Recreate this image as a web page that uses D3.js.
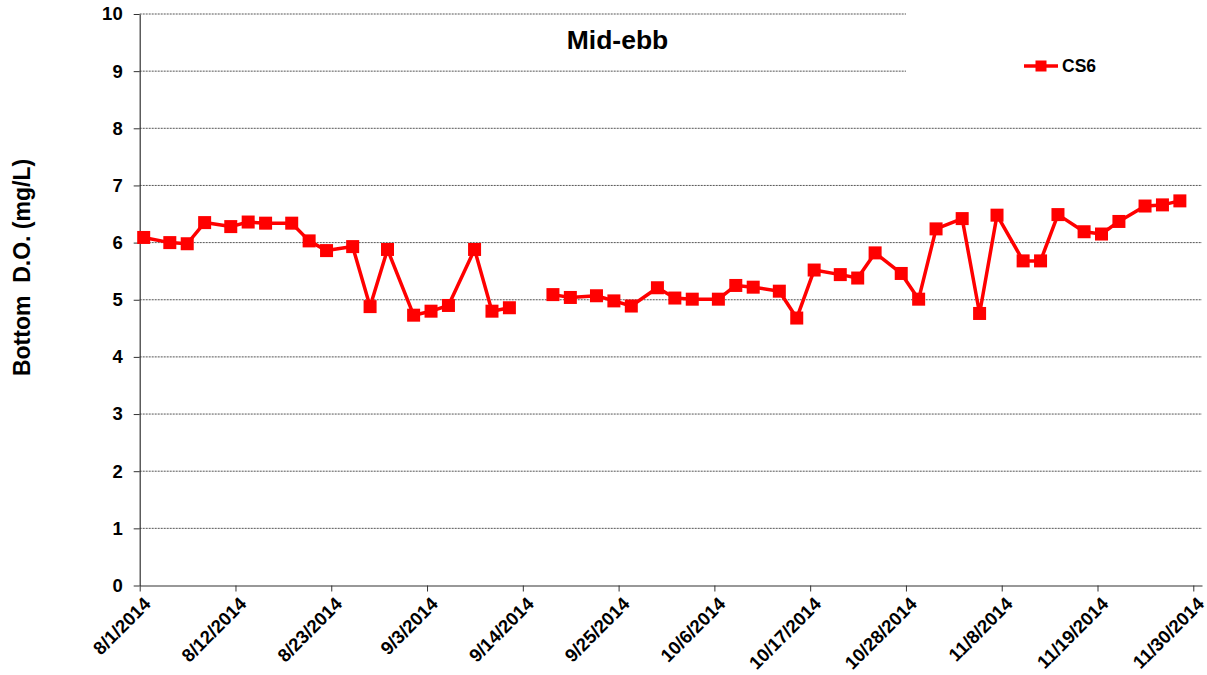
<!DOCTYPE html>
<html><head><meta charset="utf-8">
<script src="https://cdn.jsdelivr.net/npm/d3@7"></script>
<style>
body{margin:0;background:#fff;}
svg{display:block;font-family:"Liberation Sans",Arial,sans-serif;}
</style></head>
<body><svg id="c" width="1207" height="675"></svg>
<script>
const seriesName = "CS6";
const dates = ["2014-08-01","2014-08-04","2014-08-06","2014-08-08","2014-08-11","2014-08-13","2014-08-15","2014-08-18","2014-08-20","2014-08-22","2014-08-25","2014-08-27","2014-08-29",
"2014-09-01","2014-09-03","2014-09-05","2014-09-08","2014-09-10","2014-09-12","2014-09-15","2014-09-17","2014-09-19","2014-09-22","2014-09-24","2014-09-26","2014-09-29",
"2014-10-01","2014-10-03","2014-10-06","2014-10-08","2014-10-10","2014-10-13","2014-10-15","2014-10-17","2014-10-20","2014-10-22","2014-10-24","2014-10-27","2014-10-29","2014-10-31",
"2014-11-03","2014-11-05","2014-11-07","2014-11-10","2014-11-12","2014-11-14","2014-11-17","2014-11-19","2014-11-21","2014-11-24","2014-11-26","2014-11-28"];
const sampleTime = "T11:00";
const values = [6.09,6.00,5.98,6.35,6.28,6.36,6.34,6.34,6.03,5.86,5.93,4.88,5.88,
4.73,4.80,4.90,5.88,4.80,4.86,null,5.09,5.04,5.07,4.98,4.89,5.21,
5.03,5.01,5.01,5.25,5.22,5.15,4.68,5.52,5.44,5.38,5.82,5.46,5.01,6.24,
6.42,4.76,6.48,5.68,5.68,6.49,6.19,6.15,6.37,6.64,6.66,6.73];
const xTickLabels = ["8/1/2014","8/12/2014","8/23/2014","9/3/2014","9/14/2014","9/25/2014","10/6/2014","10/17/2014","10/28/2014","11/8/2014","11/19/2014","11/30/2014"];
const yTicks = [0,1,2,3,4,5,6,7,8,9,10];
const xDomain = ["2014-08-01","2014-12-01"];
const yDomain = [0,10];
const title = "Mid-ebb";
const yTitle = "Bottom  D.O. (mg/L)";

const parse = d3.timeParse("%Y-%m-%dT%H:%M");
const parseDay = d3.timeParse("%Y-%m-%d");
const tickParse = d3.timeParse("%-m/%-d/%Y");
const data = dates.map((d,i)=>({date:parse(d+sampleTime), v:values[i]}));

const L=139.7, R=1202, T=14, B=585.5;
const x = d3.scaleTime().domain(xDomain.map(parseDay)).range([L,R]);
const y = d3.scaleLinear().domain(yDomain).range([B,T]);
const svg = d3.select("#c");
const FF = "'Liberation Sans',Arial,sans-serif";

// gridlines
svg.append("g").selectAll("line").data(yTicks.filter(t=>t>0)).join("line")
  .attr("x1",L).attr("x2",R).attr("y1",d=>y(d)).attr("y2",d=>y(d))
  .attr("stroke","#555").attr("stroke-width",1).attr("stroke-dasharray","2,1");

// legend background box (covers gridlines)
svg.append("rect").attr("x",906).attr("y",5).attr("width",300).attr("height",100).attr("fill","#fff");

// y axis
const yAxis = svg.append("g").attr("transform",`translate(${L},0)`)
  .call(d3.axisLeft(y).tickValues(yTicks).tickSize(6).tickSizeOuter(0).tickFormat(d3.format("d")));
yAxis.select(".domain").attr("stroke","#333").attr("stroke-width",1.2);
yAxis.selectAll(".tick line").attr("stroke","#333");
yAxis.selectAll("text").attr("x",-17).attr("fill","#000").style("font-size","18.5px").style("font-weight","bold")
  .style("font-family",FF);

// x axis
const xAxis = svg.append("g").attr("transform",`translate(0,${B})`)
  .call(d3.axisBottom(x).tickValues(xTickLabels.map(tickParse)).tickSize(6).tickSizeOuter(0).tickFormat(d3.timeFormat("%-m/%-d/%Y")));
xAxis.select(".domain").attr("stroke","#333").attr("stroke-width",1.2);
xAxis.selectAll(".tick line").attr("stroke","#333");
xAxis.selectAll("text").attr("fill","#000").style("font-size","18.5px").style("font-weight","bold")
  .style("font-family",FF)
  .attr("text-anchor","end").attr("x",0).attr("y",0).attr("dy","0.35em")
  .attr("transform","translate(7,15) rotate(-45)");

// line
const line = d3.line().defined(d=>d.v!=null).x(d=>x(d.date)).y(d=>y(d.v));
svg.append("path").datum(data).attr("d",line).attr("fill","none")
  .attr("stroke","#ff0000").attr("stroke-width",3.5).attr("stroke-linejoin","round");
const ms=13;
svg.append("g").selectAll("rect").data(data.filter(d=>d.v!=null)).join("rect")
  .attr("x",d=>x(d.date)-ms/2).attr("y",d=>y(d.v)-ms/2).attr("width",ms).attr("height",ms)
  .attr("fill","#ff0000");

// title
svg.append("text").attr("x",617.5).attr("y",49).attr("text-anchor","middle")
  .style("font-size","26.5px").style("font-weight","bold").text(title);
// y title
svg.append("text").attr("transform","translate(30,267.5) rotate(-90)").attr("text-anchor","middle")
  .style("font-size","23px").style("font-weight","bold").style("white-space","pre").attr("xml:space","preserve").text(yTitle);

// legend
const lg = svg.append("g");
lg.append("line").attr("x1",1024).attr("x2",1058).attr("y1",66).attr("y2",66).attr("stroke","#ff0000").attr("stroke-width",3.5);
lg.append("rect").attr("x",1041-5.5).attr("y",66-5.5).attr("width",11).attr("height",11).attr("fill","#ff0000");
lg.append("text").attr("x",1062).attr("y",72).style("font-size","17.5px").style("font-weight","bold").text(seriesName);
</script></body></html>
